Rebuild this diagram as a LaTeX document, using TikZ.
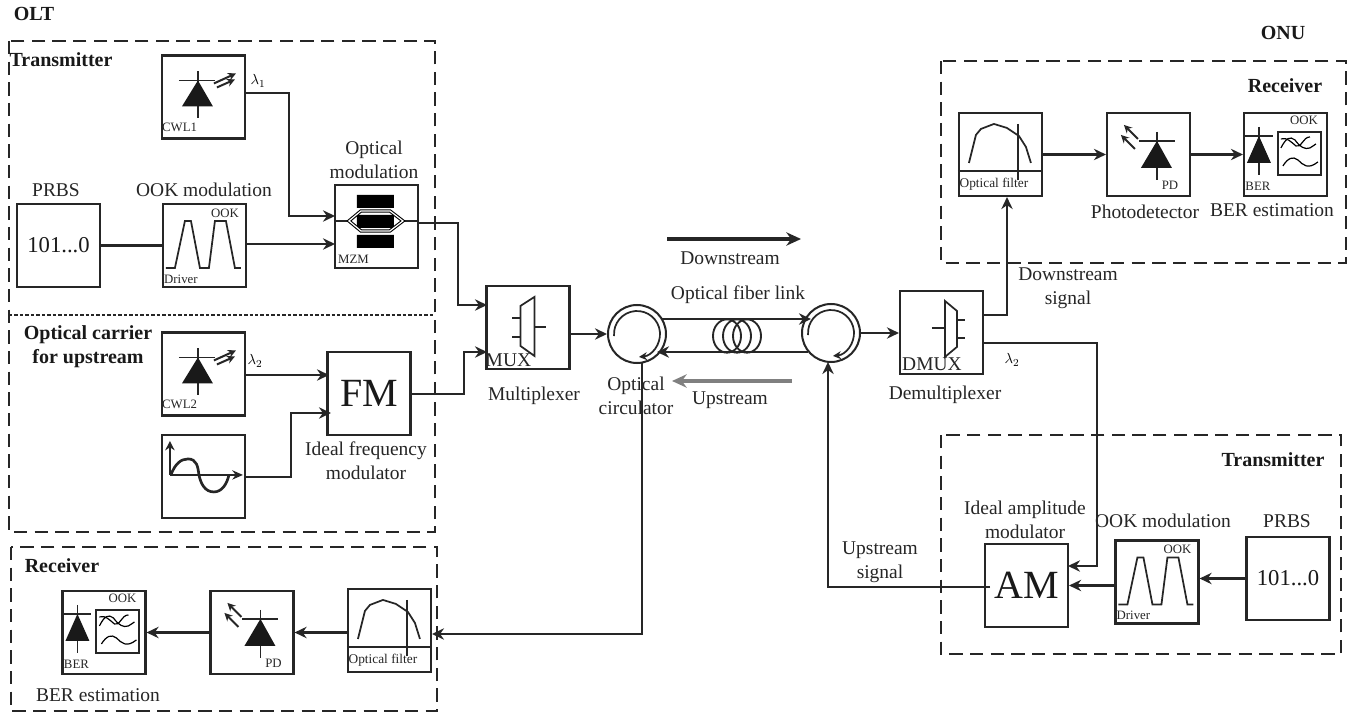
\documentclass[tikz,border=0pt]{standalone}
\usepackage{fontspec}
\setmainfont{Liberation Serif}
\usetikzlibrary{arrows.meta,calc,shapes.geometric}
\tikzset{
  x=0.75pt,y=-0.75pt,
  ln/.style={line width=1.7pt,draw=black!85},
  thinln/.style={line width=1.3pt,draw=black!85},
  arr/.style={ln,-{Stealth[length=9pt,width=8.5pt]}},
  plainconn/.style={ln},
  dashbox/.style={line width=1.7pt,draw=black!85,dash pattern=on 10pt off 5.5pt},
  blk/.style={draw=black!85,line width=1.6pt,minimum width=62.25pt,minimum height=62.25pt,inner sep=0pt},
  lab/.style={font=\fontsize{14.6}{18}\selectfont,align=center,inner sep=0pt,text=black!85},
  blab/.style={font=\bfseries\fontsize{15}{18}\selectfont,align=center,inner sep=0pt,text=black!90},
  tiny/.style={font=\fontsize{9.6}{10}\selectfont,inner sep=0pt,text=black!85},
  filtertxt/.style={font=\fontsize{10}{10}\selectfont,inner sep=0pt,text=black!85},
  big/.style={font=\fontsize{30}{32}\selectfont,inner sep=0pt,text=black!90},
  mid/.style={font=\fontsize{17}{20}\selectfont,inner sep=0pt,text=black!90},
  sm/.style={line width=1.5pt,draw=black!85,-{Stealth[length=6pt,width=6pt]}},
  coil/.style={draw=black!85,line width=1.4pt,ellipse,minimum width=21pt,minimum height=25pt,inner sep=0pt},
  pics/laser/.style={code={
    \draw[thinln] (37,17)--(37,64) (18,26)--(54,26);
    \fill[black!90] (37,26)--(21,52)--(52,52)--cycle;
    \draw[sm] (53,29)--(75,19);
    \draw[sm] (56,33)--(74,25);
    \node[tiny,anchor=west] (t) at (1,73) {#1};
  }},
  pics/driver/.style={code={
    \draw[thinln] (4,65)--(13,65)--(23,18)--(29,18)--(38,65)--(47,65)--(53,18)--(64,18)--(73,65)--(79,65);
    \node[tiny] (o) at (63,10) {OOK};
    \node[tiny] (d) at (19,76) {Driver};
  }},
  pics/mzm/.style={code={
    \fill[black] (23,11) rectangle (60,24) (23,31) rectangle (60,44) (23,51) rectangle (60,64);
    \draw[thinln] (0,37)--(15,37) (69,37)--(83,37);
    \draw[line width=.8pt,double=white,double distance=.9pt] (15,37)--(27,27)--(56,27)--(69,37)--(56,47)--(27,47)--cycle;
    \node[tiny,anchor=west] (m) at (4,75) {MZM};
  }},
  pics/sinebox/.style={code={
    \draw[ln,-{Stealth[length=7pt,width=7pt]}] (9,41)--(9,7);
    \draw[ln,-{Stealth[length=8pt,width=7pt]}] (9,41)--(82,41);
    \draw[line width=2pt,draw=black!85] (10,41) .. controls (14,30) and (20,25) .. (27,25) .. controls (36,25) and (37,33) .. (38,41) .. controls (40,50) and (44,58) .. (53,58) .. controls (61,58) and (66,50) .. (68,41);
  }},
  pics/muxicon/.style={code={
    \draw[thinln] (35,21)--(49,12)--(49,71)--(35,61)--cycle;
    \draw[thinln] (27,33)--(35,33) (27,52)--(35,52) (49,42)--(61,42);
    \node[lab] (m) at (23,75) {MUX};
  }},
  pics/dmuxicon/.style={code={
    \draw[thinln] (46,11)--(58,21)--(58,57)--(46,67)--cycle;
    \draw[thinln] (33,38)--(46,38) (58,30)--(66,30) (58,48)--(66,48);
    \node[lab] (m) at (33,74) {DMUX};
  }},
  pics/filtericon/.style={code={
    \draw[thinln] (0,59)--(83,59) (60,12)--(60,68);
    \draw[thinln] (11,51)--(18,23)--(23,17)--(36,12)--(49,16)--(61,24)--(68,35)--(73,51);
    \node[filtertxt] (f) at (36,72) {Optical filter};
  }},
  pics/pdicon/.style={code={
    \draw[thinln] (51,20)--(51,68) (33,29)--(69,29);
    \fill[black!90] (51,29)--(35,56)--(66,56)--cycle;
    \draw[sm] (32,27)--(18,13);
    \draw[sm] (29,37)--(15,23);
    \node[tiny] (p) at (64,73) {PD};
  }},
  pics/bericon/.style={code={
    \draw[thinln] (16,15)--(16,63) (2,24)--(30,24);
    \fill[black!90] (16,24)--(4,51)--(28,51)--cycle;
    \draw[line width=1.5pt,draw=black!85] (35,20) rectangle (78,63);
    \draw[line width=.9pt] (38,36) .. controls (43,26) and (47,24) .. (52,28) .. controls (57,35) and (62,38) .. (67,36) .. controls (70,34) and (72,33) .. (73,32);
    \draw[line width=.9pt] (38,27) .. controls (44,25) and (48,30) .. (53,34) .. controls (58,37) and (60,25) .. (67,25);
    \draw[line width=.9pt] (40,54) .. controls (45,46) and (50,44) .. (55,48) .. controls (60,53) and (65,58) .. (75,50);
    \node[tiny] (o) at (61,8) {OOK};
    \node[tiny] (b) at (15,74) {BER};
  }},
}
\newcommand{\circul}[2]{%
  \node[draw=black!85,line width=1.5pt,circle,minimum size=43.5pt,inner sep=0pt] (#1) at #2 {};
  \draw[thinln,-{Stealth[length=6pt,width=6pt]}] ([shift={(185:17.25pt)}]#1.center) arc[start angle=185,end angle=-85,radius=17.25pt];
}
\begin{document}
\begin{tikzpicture}
\useasboundingbox (0,0) rectangle (1350,713);
\fill[white] (0,0) rectangle (1350,713);

% dashed groups
\draw[dashbox] (9,41) rectangle (435,532);
\draw[line width=1.3pt,draw=black!85,dash pattern=on 2.6pt off 1.5pt] (9,315)--(435,315);
\draw[dashbox] (11,547) rectangle (437,711);
\draw[dashbox] (941,61) rectangle (1346,263);
\draw[dashbox] (941,435) rectangle (1341,654);

% blocks
\node[blk] (cwlone) at (203.5,97) {};
\node[blk] (prbsa) at (58.5,245.5) {};
\node[blk] (drva) at (204.5,245.5) {};
\node[blk] (mzm) at (376.5,226.5) {};
\node[blk] (cwltwo) at (203.5,374) {};
\node[blk] (sine) at (203.5,476.5) {};
\node[blk] (fm) at (369,393.5) {};
\node[blk] (mux) at (528,327.5) {};
\node[blk] (dmux) at (941.5,332.5) {};
\node[blk] (filta) at (1000.5,154.5) {};
\node[blk] (pda) at (1148.5,154.5) {};
\node[blk] (bera) at (1285.5,154.5) {};
\node[blk] (am) at (1026.5,585.5) {};
\node[blk] (drvb) at (1157,582) {};
\node[blk] (prbsb) at (1288,578.5) {};
\node[blk] (berb) at (104,632.5) {};
\node[blk] (pdb) at (252,632.5) {};
\node[blk] (filtb) at (389.5,630.5) {};

% icons
\pic (ia) at (cwlone.north west) {laser={CWL1}};
\pic (ib) at (cwltwo.north west) {laser={CWL2}};
\pic (ic) at (drva.north west) {driver};
\pic (id) at (drvb.north west) {driver};
\pic (ie) at (mzm.north west) {mzm};
\pic (if) at (sine.north west) {sinebox};
\pic (ig) at (mux.north west) {muxicon};
\pic (ih) at (dmux.north west) {dmuxicon};
\pic (ii) at (filta.north west) {filtericon};
\pic (ij) at (filtb.north west) {filtericon};
\pic (ik) at (pda.north west) {pdicon};
\pic (il) at (pdb.north west) {pdicon};
\pic (im) at (bera.north west) {bericon};
\pic (in) at (berb.north west) {bericon};

% block contents
\node[mid] (t101a) at (prbsa.center) {101...0};
\node[mid] (t101b) at (prbsb.center) {101...0};
\node[big] (tfm) at (fm.center) {FM};
\node[big] (tam) at (am.center) {AM};

% circulators
\circul{cl}{(637,334)}
\circul{cr}{(831,333)}

% fibre coil
\node[coil] (ca) at (727,336) {};
\node[coil] (cb) at (737,336) {};
\node[coil] (cc) at (747,336) {};

% ports
\coordinate (p1) at (245,93);
\coordinate (p1a) at (289,93);
\coordinate (p1b) at (289,216);
\coordinate (p2) at (335,216);
\coordinate (p3a) at (246,244);
\coordinate (p3b) at (335,244);
\coordinate (p4) at (418,223);
\coordinate (p4a) at (458,223);
\coordinate (p4b) at (458,305);
\coordinate (p5) at (487,305);
\coordinate (p6a) at (245,375);
\coordinate (p6b) at (329,375);
\coordinate (p7) at (245,477);
\coordinate (p7a) at (291,477);
\coordinate (p7b) at (291,413);
\coordinate (p8) at (331,413);
\coordinate (p9) at (410,394);
\coordinate (p9a) at (464,394);
\coordinate (p9b) at (464,352);
\coordinate (p10) at (487,352);
\coordinate (f1) at (662,319);
\coordinate (f2) at (811,319);
\coordinate (f3) at (808,352);
\coordinate (f4) at (657,352);
\coordinate (d1) at (983,315);
\coordinate (d1a) at (1007,315);
\coordinate (d2) at (983,343);
\coordinate (d2a) at (1097,343);
\coordinate (d2b) at (1097,566);
\coordinate (d3) at (1068,566);
\coordinate (u1) at (990,587);
\coordinate (u1a) at (828,587);
\coordinate (u1b) at (828,362);
\coordinate (l1) at (642,362);
\coordinate (l1a) at (642,634);
\coordinate (l2) at (432,634);
\coordinate (dsA) at (667,239);
\coordinate (dsB) at (801,239);
\coordinate (usA) at (792,381);
\coordinate (usB) at (672,381);

% connectors
\draw[arr] (p1)--(p1a)--(p1b)--(p2);
\draw[plainconn] (prbsa.east)--(drva.west);
\draw[arr] (p3a)--(p3b);
\draw[arr] (p4)--(p4a)--(p4b)--(p5);
\draw[arr] (p6a)--(p6b);
\draw[arr] (p7)--(p7a)--(p7b)--(p8);
\draw[arr] (p9)--(p9a)--(p9b)--(p10);
\draw[arr] (mux.east|-cl.west)--(cl.west);
\draw[arr] (cr.east)--(dmux.west|-cr.east);
\draw[arr] (f1)--(f2);
\draw[arr] (f3)--(f4);
\draw[arr] (d1)--(d1a)--(filta.south-|d1a);
\draw[arr] (d2)--(d2a)--(d2b)--(d3);
\draw[arr] (drvb.west|-am.center)--(am.east|-am.center);
\draw[arr] (prbsb.west)--(drvb.east|-prbsb.west);
\draw[arr] (u1)--(u1a)--(u1b);
\draw[arr] (l1)--(l1a)--(l2);
\draw[arr] (filta.east)--(pda.west);
\draw[arr] (pda.east)--(bera.west);
\draw[arr] (filtb.west|-pdb.center)--(pdb.east);
\draw[arr] (pdb.west)--(berb.east);
\draw[line width=2.4pt,draw=black!85,-{Stealth[length=11pt,width=10pt]}] (dsA)--(dsB);
\draw[line width=2.8pt,draw=black!50,-{Stealth[length=11pt,width=10pt]}] (usA)--(usB);

% labels
\node[blab] (olt) at (34,14) {OLT};
\node[blab] (onu) at (1283,33) {ONU};
\node[blab] (txa) at (61,60) {Transmitter};
\node[blab] (oc) at (88,347) {Optical carrier\\for upstream};
\node[blab] (rxa) at (62,566) {Receiver};
\node[blab] (rxb) at (1285,86) {Receiver};
\node[blab] (txb) at (1273,460) {Transmitter};
\node[lab] (la) at (56,190) {PRBS};
\node[lab] (lb) at (204,190) {OOK modulation};
\node[lab] (lc) at (374,160) {Optical\\modulation};
\node[lab] (ld) at (366,461) {Ideal frequency\\modulator};
\node[lab] (le) at (534,396) {Multiplexer};
\node[lab] (lf) at (636,396) {Optical\\circulator};
\node[lab] (lg) at (730,258) {Downstream};
\node[lab] (lh) at (738,295) {Optical fiber link};
\node[lab] (li) at (730,400) {Upstream};
\node[lab] (lj) at (945,395) {Demultiplexer};
\node[lab] (lk) at (1068,288) {Downstream\\signal};
\node[lab] (ll) at (1145,212) {Photodetector};
\node[lab] (lm) at (1272,210) {BER estimation};
\node[lab] (ln) at (1025,520) {Ideal amplitude\\modulator};
\node[lab] (lo) at (1163,521) {OOK modulation};
\node[lab] (lp) at (1287,521) {PRBS};
\node[lab] (lq) at (880,562) {Upstream\\signal};
\node[lab] (lr) at (98,695) {BER estimation};
\node[inner sep=0pt,font=\fontsize{11}{12}\selectfont] (wa) at (258,81) {$\lambda_1$};
\node[inner sep=0pt,font=\fontsize{11}{12}\selectfont] (wb) at (255,361) {$\lambda_2$};
\node[inner sep=0pt,font=\fontsize{11}{12}\selectfont] (wc) at (1012,360) {$\lambda_2$};
\end{tikzpicture}
\end{document}
